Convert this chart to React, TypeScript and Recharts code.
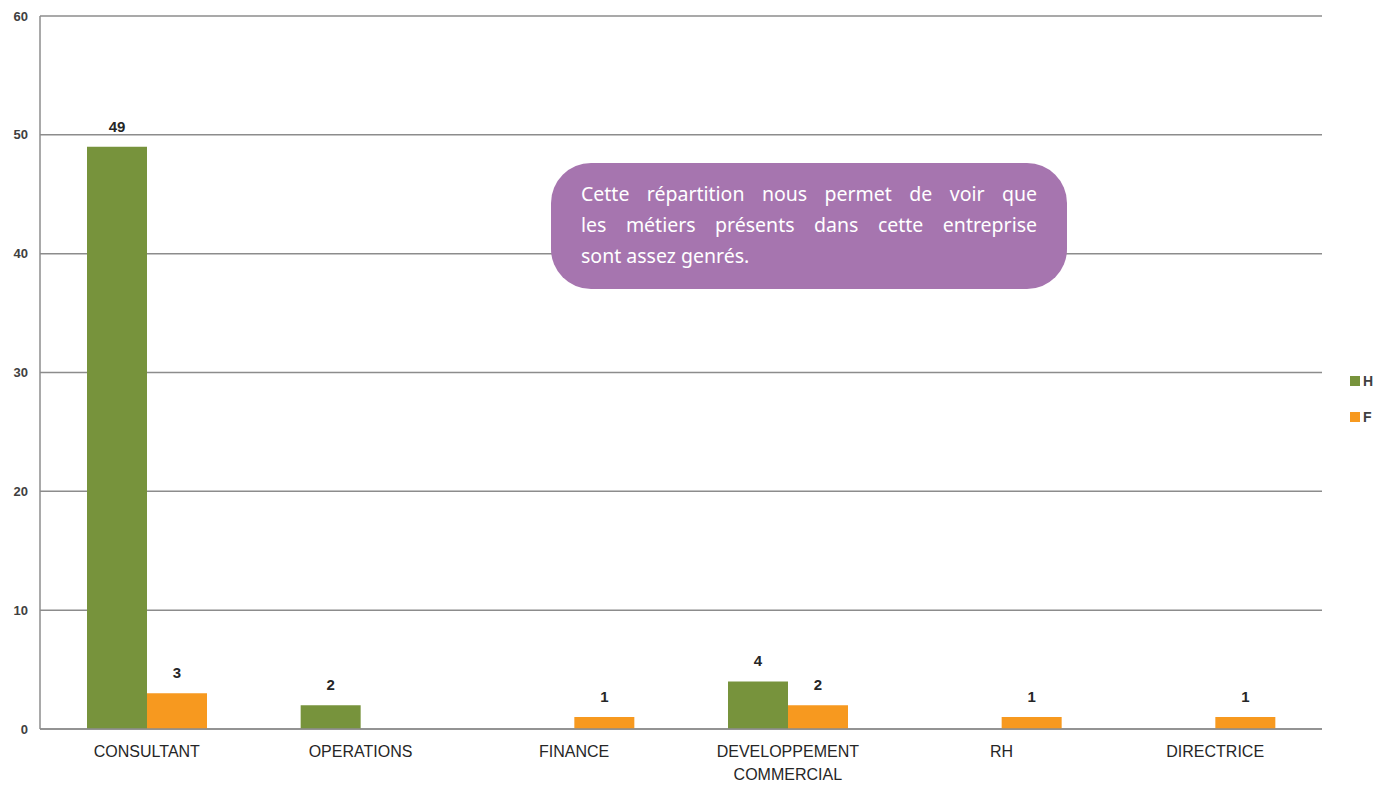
import React from "react";
import {
  BarChart,
  Bar,
  XAxis,
  YAxis,
  CartesianGrid,
  LabelList,
} from "recharts";

const categories = [
  "CONSULTANT",
  "OPERATIONS",
  "FINANCE",
  "DEVELOPPEMENT COMMERCIAL",
  "RH",
  "DIRECTRICE",
];
const hommes = [49, 2, 0, 4, 0, 0];
const femmes = [3, 0, 1, 2, 1, 1];
const yTicks = [0, 10, 20, 30, 40, 50, 60];
const noteLines = [
  "Cette répartition nous permet de voir que",
  "les métiers présents dans cette entreprise",
  "sont assez genrés.",
];

const data = categories.map((name, i) => ({
  name,
  H: hommes[i],
  F: femmes[i],
}));

const GREEN = "#77933C";
const ORANGE = "#F7991F";
const FONT = "'Liberation Sans', Arial, sans-serif";

const legendItems = [
  { label: "H", color: GREEN },
  { label: "F", color: ORANGE },
];

function CategoryTick(props: any) {
  const { x, y, payload } = props;
  const label: string = payload.value;
  const lines = label.length > 14 ? label.split(" ") : [label];
  return (
    <g transform={`translate(${x},${y})`}>
      {lines.map((line, i) => (
        <text
          key={i}
          x={0}
          y={i * 23}
          dy={20}
          textAnchor="middle"
          fill="#262626"
          fontSize={16}
          fontFamily={FONT}
        >
          {line}
        </text>
      ))}
    </g>
  );
}

function ValueLabel(props: any) {
  const { x, y, width, value } = props;
  if (!value) return null;
  return (
    <text
      x={x + width / 2}
      y={y - 15}
      textAnchor="middle"
      fill="#262626"
      fontSize={15}
      fontWeight="bold"
      fontFamily={FONT}
    >
      {value}
    </text>
  );
}

export default function App() {
  return (
    <div
      style={{
        position: "absolute",
        left: 0,
        top: 0,
        width: 1394,
        height: 789,
        background: "#fff",
      }}
    >
      <BarChart
        width={1394}
        height={789}
        data={data}
        margin={{ top: 16, right: 72, bottom: 0, left: 0 }}
        barGap={0}
        barSize={60}
      >
        <CartesianGrid
          vertical={false}
          stroke="#8c8c8c"
          strokeWidth={1.5}
        />
        <XAxis
          dataKey="name"
          height={60}
          interval={0}
          tickLine={false}
          axisLine={{ stroke: "#8c8c8c", strokeWidth: 1.5 }}
          tick={<CategoryTick />}
        />
        <YAxis
          width={40}
          domain={[0, 60]}
          ticks={yTicks}
          tickLine={false}
          tickSize={0}
          tickMargin={12}
          axisLine={{ stroke: "#8c8c8c", strokeWidth: 1.5 }}
          tick={{
            fill: "#404040",
            fontSize: 13,
            fontWeight: "bold",
            fontFamily: FONT,
          }}
        />
        <Bar dataKey="H" name="H" fill={GREEN} isAnimationActive={false}>
          <LabelList dataKey="H" content={<ValueLabel />} />
        </Bar>
        <Bar dataKey="F" name="F" fill={ORANGE} isAnimationActive={false}>
          <LabelList dataKey="F" content={<ValueLabel />} />
        </Bar>
      </BarChart>

      <div
        style={{
          position: "absolute",
          left: 1350,
          top: 372,
          fontFamily: FONT,
        }}
      >
        {legendItems.map((item) => (
          <div
            key={item.label}
            style={{
              display: "flex",
              alignItems: "center",
              height: 18,
              marginBottom: 18,
              fontSize: 14,
              fontWeight: "bold",
              color: "#404040",
            }}
          >
            <span
              style={{
                display: "inline-block",
                width: 10,
                height: 10,
                background: item.color,
                marginRight: 3,
              }}
            />
            {item.label}
          </div>
        ))}
      </div>

      <div
        style={{
          position: "absolute",
          left: 551,
          top: 163,
          width: 516,
          height: 126,
          boxSizing: "border-box",
          padding: "15px 30px 0 30px",
          background: "#A675AF",
          borderRadius: 40,
          color: "#fff",
          fontFamily: "'Noto Sans', sans-serif",
          fontSize: 19.5,
          lineHeight: "31px",
        }}
      >
        {noteLines.map((line, i) => (
          <div
            key={i}
            style={{
              textAlign: "justify",
              textAlignLast: i < noteLines.length - 1 ? "justify" : "left",
              whiteSpace: "nowrap",
            }}
          >
            {line}
          </div>
        ))}
      </div>
    </div>
  );
}
